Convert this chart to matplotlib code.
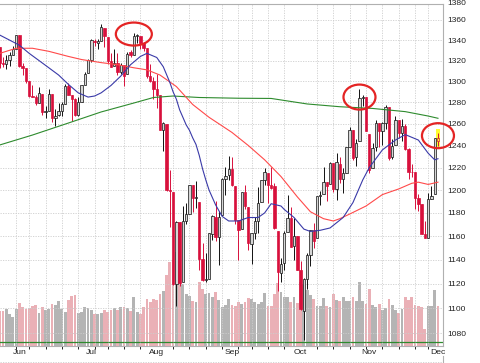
import matplotlib
matplotlib.use("Agg")
import matplotlib.pyplot as plt
import matplotlib.transforms as mtransforms
from matplotlib.patches import Ellipse
from matplotlib.lines import Line2D
from matplotlib.ticker import NullLocator, FixedLocator, FixedFormatter
import numpy as np
import pandas as pd

plt.rcParams["font.family"] = ["Liberation Sans", "DejaVu Sans"]

# trading days shown (market holidays removed)
holidays = ["2011-05-30", "2011-07-04", "2011-09-05", "2011-11-24"]
dates = pd.bdate_range("2011-05-23", "2011-12-01")
dates = dates[~dates.isin(pd.to_datetime(holidays))]

opens = [1333.07, 1317.70, 1316.36, 1320.64, 1325.69, 1331.10,
         1345.20, 1314.55, 1312.94, 1300.26, 1286.31, 1284.63, 1279.63, 1288.26, 1271.31, 1272.22,
         1287.87, 1265.53, 1268.58, 1271.50, 1278.40, 1295.48, 1286.60, 1283.04, 1268.44, 1280.21,
         1296.85, 1307.64,
         1320.64, 1339.59, 1337.56, 1339.62, 1352.39, 1343.31, 1319.61, 1314.45, 1317.74, 1308.87,
         1315.94, 1307.07, 1328.66, 1325.65, 1343.80, 1344.32, 1337.39, 1331.91, 1304.84, 1300.12,
         1292.59, 1286.56, 1254.25, 1260.23, 1200.28, 1198.48, 1120.23, 1171.77, 1121.30, 1172.87,
         1178.86, 1204.22, 1192.89, 1189.62, 1140.47, 1123.55, 1124.36, 1162.16, 1176.69, 1158.85,
         1177.91, 1209.76, 1213.00,
         1219.12, 1203.90, 1173.97, 1165.85, 1197.98, 1185.37, 1153.50, 1162.59, 1173.32, 1189.44,
         1209.21, 1214.99, 1204.50, 1203.63, 1164.55, 1128.82, 1136.91, 1163.32, 1175.39, 1151.74,
         1159.93,
         1131.21, 1097.42, 1124.03, 1144.11, 1165.03, 1158.15, 1194.60, 1196.19, 1206.96, 1205.65,
         1224.47, 1200.75, 1223.46, 1209.92, 1215.39, 1238.72, 1254.19, 1229.17, 1243.97, 1284.39,
         1284.96,
         1251.00, 1219.62, 1238.25, 1260.82, 1253.21, 1261.12, 1275.18, 1229.59, 1240.12, 1263.85,
         1251.70, 1257.81, 1236.56, 1216.19, 1215.62, 1192.98, 1187.48, 1161.41, 1158.67, 1192.56,
         1196.72, 1246.91]
highs = [1333.07, 1323.72, 1325.86, 1328.51, 1334.62, 1345.20,
         1345.20, 1318.03, 1312.94, 1300.26, 1296.22, 1287.04, 1294.54, 1288.26, 1277.04, 1292.50,
         1287.87, 1274.11, 1279.82, 1280.42, 1297.62, 1298.61, 1286.60, 1283.93, 1284.91, 1296.80,
         1309.21, 1321.97,
         1341.01, 1340.89, 1340.94, 1356.48, 1352.39, 1343.31, 1327.17, 1331.48, 1326.88, 1317.70,
         1315.94, 1328.14, 1330.43, 1347.00, 1346.10, 1344.32, 1338.51, 1331.91, 1316.32, 1304.16,
         1307.38, 1286.56, 1261.20, 1260.23, 1218.11, 1198.48, 1172.88, 1171.77, 1186.29, 1189.04,
         1204.49, 1204.22, 1208.47, 1189.62, 1154.54, 1145.49, 1162.35, 1178.56, 1190.68, 1181.23,
         1210.28, 1220.10, 1230.71,
         1229.29, 1203.90, 1173.97, 1198.62, 1204.40, 1185.37, 1162.52, 1176.41, 1202.38, 1209.11,
         1220.06, 1214.99, 1220.39, 1206.30, 1164.55, 1141.72, 1164.19, 1195.86, 1184.71, 1175.87,
         1159.93,
         1138.99, 1125.12, 1146.07, 1165.55, 1171.40, 1194.91, 1199.24, 1220.25, 1207.46, 1224.61,
         1224.47, 1233.10, 1229.64, 1219.53, 1239.03, 1256.55, 1254.19, 1246.28, 1292.66, 1287.08,
         1284.96,
         1251.00, 1242.48, 1263.21, 1260.82, 1261.70, 1277.55, 1275.18, 1246.22, 1266.98, 1263.85,
         1264.25, 1259.61, 1237.73, 1223.51, 1215.62, 1196.81, 1187.48, 1172.66, 1197.35, 1203.67,
         1247.11, 1251.09]
lows = [1312.88, 1313.87, 1311.80, 1314.41, 1325.69, 1331.10,
        1313.71, 1305.61, 1297.90, 1284.72, 1284.74, 1277.42, 1279.63, 1268.28, 1265.64, 1272.22,
        1261.90, 1258.07, 1267.40, 1267.56, 1278.40, 1286.79, 1262.87, 1267.24, 1267.53, 1280.21,
        1296.85, 1307.64,
        1318.18, 1334.30, 1330.92, 1339.62, 1333.71, 1316.42, 1313.33, 1314.45, 1306.51, 1307.35,
        1295.92, 1307.07, 1323.65, 1325.65, 1336.95, 1331.09, 1329.10, 1303.49, 1299.16, 1282.86,
        1274.73, 1254.03, 1234.56, 1199.54, 1168.09, 1119.28, 1101.54, 1118.01, 1121.30, 1170.74,
        1178.86, 1180.53, 1184.36, 1131.03, 1122.05, 1121.09, 1124.36, 1156.30, 1155.47, 1135.91,
        1177.91, 1195.77, 1209.35,
        1203.85, 1170.56, 1140.13, 1165.85, 1183.34, 1148.37, 1136.07, 1157.44, 1162.73, 1189.44,
        1204.46, 1188.36, 1201.29, 1166.21, 1114.22, 1121.36, 1131.07, 1163.32, 1150.40, 1139.93,
        1131.34,
        1098.92, 1074.77, 1115.68, 1134.95, 1150.26, 1158.15, 1187.30, 1196.19, 1190.58, 1205.65,
        1198.55, 1191.48, 1206.31, 1197.34, 1215.39, 1238.72, 1226.79, 1221.06, 1243.97, 1277.01,
        1253.16,
        1215.42, 1219.62, 1234.81, 1238.92, 1240.75, 1254.99, 1226.64, 1227.70, 1240.12, 1246.68,
        1244.34, 1235.67, 1209.43, 1211.36, 1183.16, 1181.65, 1161.79, 1158.66, 1158.67, 1191.80,
        1196.72, 1239.73]
closes = [1317.37, 1316.28, 1320.47, 1325.69, 1331.10, 1345.20,
          1314.55, 1312.94, 1300.16, 1286.17, 1284.94, 1279.56, 1289.00, 1270.98, 1271.83, 1287.87,
          1265.42, 1267.64, 1271.50, 1278.36, 1295.52, 1287.14, 1283.50, 1268.45, 1280.10, 1296.67,
          1307.41, 1320.64,
          1339.67, 1337.88, 1339.22, 1353.22, 1343.80, 1319.49, 1313.64, 1317.72, 1308.87, 1316.14,
          1305.44, 1326.73, 1325.84, 1343.80, 1345.02, 1337.43, 1331.94, 1304.89, 1300.67, 1292.28,
          1286.94, 1254.05, 1260.34, 1200.07, 1199.38, 1119.46, 1172.53, 1120.76, 1172.64, 1178.81,
          1204.49, 1192.76, 1193.89, 1140.65, 1123.53, 1123.82, 1162.35, 1177.60, 1159.27, 1176.80,
          1210.08, 1212.92, 1218.89,
          1204.42, 1173.97, 1165.24, 1198.62, 1185.90, 1154.23, 1162.27, 1172.87, 1188.68, 1209.11,
          1216.01, 1204.09, 1202.09, 1166.76, 1129.56, 1136.43, 1162.95, 1175.38, 1151.06, 1160.40,
          1131.42,
          1099.23, 1123.95, 1144.03, 1164.97, 1155.46, 1194.89, 1195.54, 1207.25, 1203.66, 1224.58,
          1200.86, 1225.38, 1209.88, 1215.39, 1238.25, 1254.19, 1229.05, 1242.00, 1284.59, 1285.09,
          1253.30,
          1218.28, 1237.90, 1261.15, 1253.23, 1261.12, 1275.92, 1229.10, 1239.70, 1263.85, 1251.78,
          1257.81, 1236.91, 1216.13, 1215.65, 1192.98, 1188.04, 1161.79, 1158.67, 1192.55, 1195.19,
          1246.96, 1244.58]
# volume, millions of shares
volumes = [3500, 3500, 3700, 3200, 2900, 3700,
           4300, 3900, 3700, 3800, 4000, 4100, 3300, 3900, 3600, 3700, 4200, 4100, 4500, 3700,
           3400, 4600, 5000, 5100, 3300, 3400, 3900, 3800,
           3600, 3200, 3200, 3300, 3600, 3400, 3600, 3800, 3600, 3900, 3900, 3800, 3500, 4900,
           3400, 3200, 3900, 4700, 4400, 4700,
           4600, 5200, 5500, 7100, 8400, 8600, 9400, 7500, 6200, 5200, 5000, 4500, 4400, 6400,
           5700, 5200, 5300, 4900, 5400, 4600, 3900, 4100, 4700,
           4100, 4000, 4400, 4200, 4400, 4800, 4700, 4400, 4200, 4400, 5300, 4000, 4000, 5200,
           6300, 5400, 4900, 4900, 4400, 4900, 4300,
           6400, 6200, 5600, 5100, 4700, 4000, 4000, 4800, 4000, 3900, 5200, 4600, 4500, 4900,
           4500, 4500, 4900, 4500, 6400, 4500, 4200,
           5700, 4100, 3900, 4200, 3600, 3800, 4700, 4100, 3600, 3300, 3700, 4900, 4600, 4900,
           4100, 4000, 3900, 1700, 4000, 4000, 5600, 4000]

ma20_dates = ["2011-05-23", "2011-05-26", "2011-06-01", "2011-06-06", "2011-06-09", "2011-06-14",
              "2011-06-17", "2011-06-22", "2011-06-27", "2011-06-30", "2011-07-05", "2011-07-07",
              "2011-07-12", "2011-07-15", "2011-07-20", "2011-07-25", "2011-07-27", "2011-08-01",
              "2011-08-03", "2011-08-05", "2011-08-08", "2011-08-09", "2011-08-10", "2011-08-11",
              "2011-08-12", "2011-08-15", "2011-08-16", "2011-08-17", "2011-08-18", "2011-08-19",
              "2011-08-22", "2011-08-23", "2011-08-25", "2011-08-29", "2011-08-31", "2011-09-06",
              "2011-09-09", "2011-09-14", "2011-09-16", "2011-09-20", "2011-09-23", "2011-09-26",
              "2011-09-29", "2011-10-04", "2011-10-06", "2011-10-11", "2011-10-14", "2011-10-20",
              "2011-10-25", "2011-10-28", "2011-11-01", "2011-11-07", "2011-11-11", "2011-11-16",
              "2011-11-22", "2011-11-28", "2011-11-30", "2011-12-01"]
ma20_vals = [1345, 1340, 1335, 1327, 1320, 1313, 1306, 1297, 1289, 1285, 1286, 1289,
             1296, 1305, 1316, 1324, 1327, 1323, 1314, 1299, 1290, 1283, 1273, 1266,
             1259, 1254, 1247, 1241, 1231, 1219, 1209, 1200, 1187, 1177, 1173, 1173,
             1176, 1176, 1180, 1188, 1186, 1183, 1176, 1166, 1164, 1165, 1167, 1176,
             1189, 1209, 1220, 1236, 1245, 1250, 1245, 1233, 1227, 1228]

ma50_dates = ["2011-05-23", "2011-05-31", "2011-06-07", "2011-06-14", "2011-06-22", "2011-06-28",
              "2011-07-07", "2011-07-14", "2011-07-21", "2011-07-27", "2011-08-02", "2011-08-09",
              "2011-08-16", "2011-08-23", "2011-08-26", "2011-09-01", "2011-09-09", "2011-09-16",
              "2011-09-23", "2011-09-30", "2011-10-06", "2011-10-12", "2011-10-17", "2011-10-19",
              "2011-10-24", "2011-10-31", "2011-11-07", "2011-11-14", "2011-11-18", "2011-11-22",
              "2011-11-28", "2011-12-01"]
ma50_vals = [1327, 1332, 1332, 1329, 1324, 1321, 1318, 1316, 1313, 1311, 1306, 1295,
             1278, 1266, 1260, 1252, 1240, 1227, 1212, 1194, 1181, 1175, 1173, 1175,
             1179, 1186, 1196, 1201, 1206, 1207, 1205, 1207]

ma200_dates = ["2011-05-23", "2011-06-07", "2011-06-22", "2011-07-07", "2011-07-21", "2011-07-29",
               "2011-08-08", "2011-08-18", "2011-09-06", "2011-09-20", "2011-10-05", "2011-10-19",
               "2011-11-02", "2011-11-16", "2011-11-28", "2011-12-01"]
ma200_vals = [1240.5, 1249.6, 1260.7, 1271.0, 1279.4, 1284.6, 1286.0, 1284.6, 1283.9, 1283.7,
              1278.5, 1275.9, 1274.3, 1271.3, 1267.2, 1265.1]

price_ticks = list(range(1080, 1361, 20))

# red rings drawn on the chart: (date, price, width px, height px)
rings = [("2011-07-21", 1346, 36, 23), ("2011-10-27", 1285, 32, 25), ("2011-12-01", 1249, 32, 25)]

RED = "#d8103c"
GRID = "#cdcdcd"
FS = 6.1

pos = {d.strftime("%Y-%m-%d"): i for i, d in enumerate(dates)}
x = np.arange(len(dates))
o, h, l, c = map(np.array, (opens, highs, lows, closes))
prev = np.concatenate([[o[0]], c[:-1]])
down = c < o
vol_down = c < prev

fig = plt.figure(figsize=(4.8, 3.63), dpi=100)
rect = [0, 17 / 363, 443 / 480, 342 / 363]
ax_v = fig.add_axes(rect)
ax = fig.add_axes(rect, sharex=ax_v)
ax.patch.set_visible(False)

# volume underlay
ax_v.bar(x, volumes, width=0.86, color=np.where(vol_down, "#eab0b6", "#b4b4b4"), linewidth=0)
ax_v.axhline(400, color="#2e8b2e", lw=0.9, zorder=3)
ax_v.set_ylim(0, 34200)
ax_v.set_yticks([])
ax_v.tick_params(bottom=False, labelbottom=False)
for s in ax_v.spines.values():
    s.set_visible(False)

# candles
ax.set_yscale("log")
ax.bar(x[-1], h[-1] - l[-1] + 6, bottom=l[-1] - 2, width=1.0, color="#ffff30", zorder=1.5)
wick_col = np.where(down, RED, "#111111")
ax.vlines(x, l, h, colors=wick_col, lw=0.7, zorder=2)
body_lo = np.minimum(o, c)
body_h = np.maximum(np.abs(c - o), 0.4)
face = np.where(down, RED, "#d6d6d6").astype(object)
face[-1] = "#ffff30"
ax.bar(x, body_h, bottom=body_lo, width=0.72, color=list(face),
       edgecolor=list(np.where(down, RED, "#111111")), linewidth=0.5, zorder=2.5)

# moving averages
ax.plot([pos[d] for d in ma200_dates], ma200_vals, color="#2e8b2e", lw=0.8, zorder=3)
ax.plot([pos[d] for d in ma50_dates], ma50_vals, color="#ff4a4a", lw=0.8, zorder=3)
ax.plot([pos[d] for d in ma20_dates], ma20_vals, color="#3a3aa8", lw=0.8, zorder=3)

for d, p, wpx, hpx in rings:
    tr = fig.dpi_scale_trans + mtransforms.ScaledTranslation(pos[d], p, ax.transData)
    ax.add_artist(Ellipse((0, 0), wpx / 100, hpx / 100, transform=tr, fill=False,
                          edgecolor="#e42424", lw=1.6, clip_on=False, zorder=5))

ax.set_ylim(1069.9, 1376.1)
ax.set_xlim(0.07, 135.54)

ax.yaxis.tick_right()
ax.yaxis.set_major_locator(FixedLocator(price_ticks))
ax.yaxis.set_major_formatter(FixedFormatter([str(t) for t in price_ticks]))
ax.yaxis.set_minor_locator(NullLocator())
# top label sits just above the plot frame
fig.text(447 / 480, 1.0, "1380", fontsize=FS, color="#222222", va="top", ha="left")

month_pos = [i for i in range(1, len(dates)) if dates[i].month != dates[i - 1].month]
week_pos = [i for i in range(1, len(dates)) if dates[i].weekday() < dates[i - 1].weekday()]
ax.set_xticks(month_pos, labels=[dates[i].strftime("%b") for i in month_pos])
ax.set_xticks(week_pos, minor=True)
ax.tick_params(axis="both", which="both", length=0, labelsize=FS, colors="#222222")
ax.tick_params(axis="x", pad=2.3)
ax.tick_params(axis="y", pad=3)

ax.grid(axis="y", which="major", color=GRID, linestyle=(0, (1.5, 1.5)), lw=0.6)
ax.grid(axis="x", which="minor", color=GRID, linestyle=(0, (1.5, 1.5)), lw=0.6)
ax.grid(axis="x", which="major", visible=False)

ax.spines["left"].set_visible(False)
for k in ("top", "right", "bottom"):
    ax.spines[k].set_color("#b0b0b0")
    ax.spines[k].set_linewidth(0.8)

# top edge of the next panel below the date labels
fig.add_artist(Line2D([0, 443 / 480], [1.5 / 363, 1.5 / 363], color=GRID, lw=0.6,
                      linestyle=(0, (1.5, 1.5))))
fig.add_artist(Line2D([443 / 480, 443 / 480], [0, 7 / 363], color="#b0b0b0", lw=0.8))

fig.savefig("out.png", dpi=100)
